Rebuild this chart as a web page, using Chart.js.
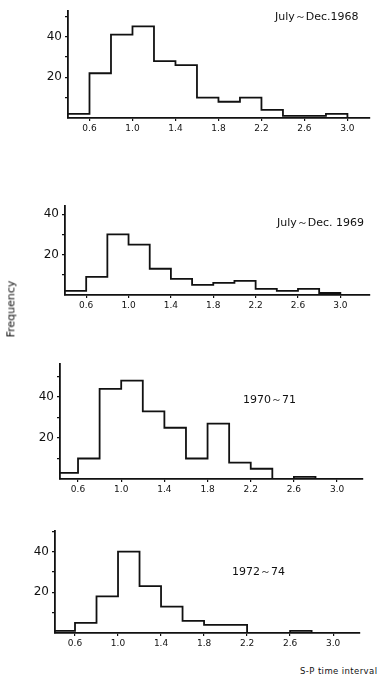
<!DOCTYPE html>
<html>
<head>
<meta charset="utf-8">
<script src="https://cdn.jsdelivr.net/npm/chart.js@4/dist/chart.umd.min.js"></script>
<style>
  html, body { margin: 0; padding: 0; background: #fff; }
  body { width: 379px; height: 681px; position: relative; overflow: hidden; font-family: "DejaVu Sans", sans-serif; color: #111; }
  canvas { position: absolute; left: 0; }
  .lbl { position: absolute; white-space: nowrap; font-size: 11px; line-height: 14px; color: #111; }
</style>
</head>
<body>
<script>
// ---- data ----
const binEdges = [0.4, 0.6, 0.8, 1.0, 1.2, 1.4, 1.6, 1.8, 2.0, 2.2, 2.4, 2.6, 2.8, 3.0];
const panelTitles = ["July～Dec.1968", "July～Dec. 1969", "1970～71", "1972～74"];
const counts1968 = [2, 22, 41, 45, 28, 26, 10, 8, 10, 4, 1, 1, 2];
const counts1969 = [2, 9, 30, 25, 13, 8, 5, 6, 7, 3, 2, 3, 1];
const counts1970_71 = [3, 10, 44, 48, 33, 25, 10, 27, 8, 5, 0, 1, 0];
const counts1972_74 = [1, 5, 18, 40, 23, 13, 6, 4, 4, 0, 0, 1, 0];
const xTickValues = [0.6, 1.0, 1.4, 1.8, 2.2, 2.6, 3.0];
const xTickLabels = ["0.6", "1.0", "1.4", "1.8", "2.2", "2.6", "3.0"];
const yTickValues = [10, 20, 30, 40, 50];
const yTickLabels = ["", "20", "", "40", ""];
const yAxisTitle = "Frequency";
const xAxisTitle = "S-P time interval";

// ---- layout (page pixels) ----
const panels = [
  { counts: counts1968,    top: 5,   bottom: 118, left: 68, right: 370, xMin: 0.4,   xMax: 3.21, yMax: 52.5, tx: 275, ty: 10 },
  { counts: counts1969,    top: 200, bottom: 295, left: 65, right: 370, xMin: 0.4,   xMax: 3.28, yMax: 44,   tx: 277, ty: 216 },
  { counts: counts1970_71, top: 358, bottom: 479, left: 60, right: 363, xMin: 0.433, xMax: 3.24, yMax: 56,   tx: 243, ty: 393 },
  { counts: counts1972_74, top: 525, bottom: 633, left: 55, right: 360, xMin: 0.414, xMax: 3.25, yMax: 50,   tx: 232, ty: 565 }
];

const INK = '#111';
const PAD_TOP = 4;
const XAXIS_H = 24;

panels.forEach((p, i) => {
  const cv = document.createElement('canvas');
  const h = (p.bottom - p.top) + PAD_TOP + XAXIS_H;
  cv.width = 379; cv.height = h;
  cv.style.width = '379px'; cv.style.height = h + 'px';
  cv.style.top = (p.top - PAD_TOP) + 'px';
  document.body.appendChild(cv);

  // histogram outline: horizontal at each bin's count, then vertical at the next edge
  const pts = p.counts.map((v, k) => ({ x: binEdges[k], y: v }));
  pts.push({ x: binEdges[binEdges.length - 1], y: p.counts[p.counts.length - 1] });
  pts.push({ x: binEdges[binEdges.length - 1], y: 0 });

  new Chart(cv.getContext('2d'), {
    type: 'line',
    data: { datasets: [{ data: pts, stepped: 'before', borderColor: INK, borderWidth: 1.8, pointRadius: 0, fill: false, tension: 0 }] },
    options: {
      responsive: false, animation: false, devicePixelRatio: 1,
      layout: { padding: { top: PAD_TOP, right: 379 - p.right, left: 0, bottom: 0 } },
      plugins: { legend: { display: false }, tooltip: { enabled: false } },
      scales: {
        x: {
          type: 'linear', min: p.xMin, max: p.xMax,
          afterBuildTicks: s => { s.ticks = xTickValues.map(v => ({ value: v })); },
          afterFit: s => { s.height = XAXIS_H; },
          ticks: { autoSkip: false, maxRotation: 0, padding: 2, color: INK,
                   font: { family: 'DejaVu Sans', size: 9 },
                   callback: (v, idx) => xTickLabels[idx] },
          grid: { drawOnChartArea: false, drawTicks: true, tickLength: 3, color: INK, lineWidth: 1.2 },
          border: { display: true, color: INK, width: 1.8 }
        },
        y: {
          type: 'linear', min: 0, max: p.yMax,
          afterBuildTicks: s => { s.ticks = yTickValues.filter(v => v <= p.yMax).map(v => ({ value: v })); },
          afterFit: s => { s.width = p.left; },
          ticks: { autoSkip: false, padding: 3, color: INK,
                   font: { family: 'DejaVu Sans', size: 12 },
                   callback: (v) => yTickLabels[yTickValues.indexOf(v)] },
          grid: { drawOnChartArea: false, drawTicks: true, tickLength: 3, color: INK, lineWidth: 1.2 },
          border: { display: true, color: INK, width: 1.8 }
        }
      }
    }
  });

  const t = document.createElement('div');
  t.className = 'lbl';
  t.textContent = panelTitles[i];
  t.style.left = p.tx + 'px';
  t.style.top = p.ty + 'px';
  document.body.appendChild(t);
});

const yt = document.createElement('div');
yt.className = 'lbl';
yt.textContent = yAxisTitle;
yt.style.fontSize = '11px';
yt.style.left = '-17px';
yt.style.top = '302px';
yt.style.transform = 'rotate(-90deg)';
document.body.appendChild(yt);

const xt = document.createElement('div');
xt.className = 'lbl';
xt.textContent = xAxisTitle;
xt.style.fontSize = '8.5px';
xt.style.letterSpacing = '0.4px';
xt.style.left = '300px';
xt.style.top = '664px';
document.body.appendChild(xt);
</script>
</body>
</html>
